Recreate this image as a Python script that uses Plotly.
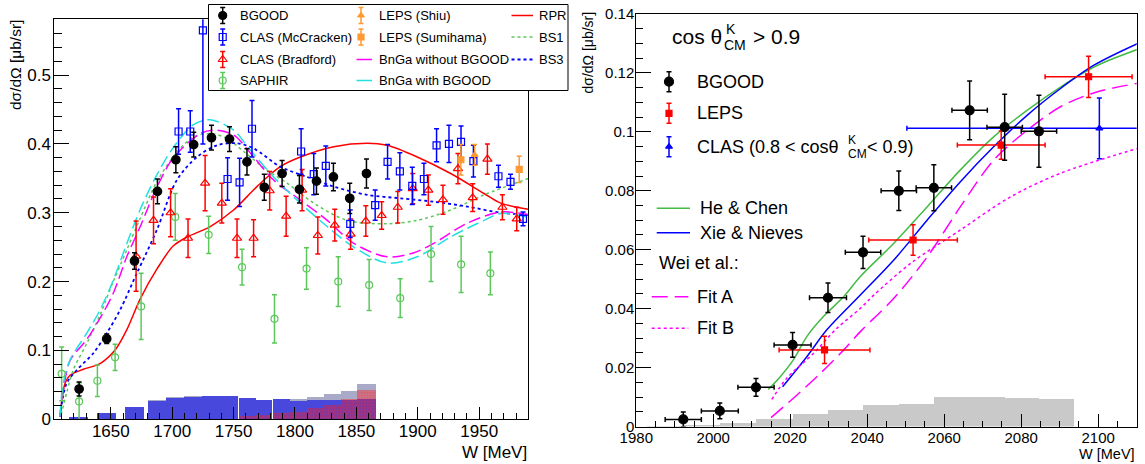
import plotly.graph_objects as go

# ================= LEFT PANEL DATA =================
bg_W = [1624.2, 1646.7, 1669.3, 1688.0, 1703.0, 1717.5, 1732.0, 1746.7, 1760.9, 1775.0, 1789.5, 1803.6, 1817.5, 1831.3, 1844.6, 1858.2]
bg_S = [0.044, 0.117, 0.230, 0.331, 0.377, 0.399, 0.409, 0.407, 0.374, 0.337, 0.357, 0.334, 0.346, 0.352, 0.321, 0.357]
bg_E = [0.010, 0.007, 0.012, 0.018, 0.019, 0.018, 0.018, 0.018, 0.019, 0.019, 0.019, 0.020, 0.019, 0.020, 0.022, 0.021]

mc_W = [1705.2, 1714.7, 1725.0, 1745.1, 1754.9, 1765.0, 1805.0, 1815.3, 1825.1, 1845.0, 1865.3, 1875.4, 1885.4, 1895.5, 1905.0, 1915.3, 1925.4, 1935.2, 1945.3, 1965.7, 1975.5, 1985.7]
mc_S = [0.418, 0.418, 0.565, 0.349, 0.344, 0.422, 0.389, 0.356, 0.368, 0.284, 0.311, 0.374, 0.360, 0.339, 0.349, 0.398, 0.400, 0.403, 0.375, 0.353, 0.345, 0.291]
mc_E = [0.033, 0.030, 0.165, 0.031, 0.035, 0.041, 0.033, 0.030, 0.029, 0.020, 0.022, 0.025, 0.027, 0.027, 0.023, 0.024, 0.027, 0.023, 0.023, 0.016, 0.011, 0.010]

br_W = [1670.6, 1684.8, 1698.7, 1712.9, 1726.8, 1740.4, 1752.8, 1766.3, 1779.4, 1792.8, 1805.8, 1818.6, 1832.4, 1845.3, 1857.7, 1870.6, 1883.7, 1895.9, 1908.6, 1920.5, 1932.7, 1944.7, 1956.7, 1968.9, 1980.6]
br_S = [0.237, 0.289, 0.300, 0.263, 0.343, 0.314, 0.263, 0.263, 0.332, 0.295, 0.333, 0.267, 0.282, 0.269, 0.288, 0.296, 0.308, 0.335, 0.333, 0.319, 0.364, 0.322, 0.378, 0.308, 0.291]
br_E = [0.051, 0.034, 0.035, 0.028, 0.040, 0.029, 0.028, 0.027, 0.028, 0.029, 0.030, 0.027, 0.023, 0.022, 0.022, 0.020, 0.023, 0.022, 0.022, 0.021, 0.022, 0.020, 0.022, 0.018, 0.017]

sa_W = [1610.0, 1624.2, 1639.1, 1653.5, 1674.7, 1702.5, 1729.7, 1756.9, 1783.3, 1809.4, 1835.2, 1860.4, 1885.7, 1910.8, 1935.3, 1959.1]
sa_S = [0.066, 0.026, 0.056, 0.090, 0.164, 0.294, 0.268, 0.221, 0.146, 0.219, 0.200, 0.195, 0.176, 0.240, 0.225, 0.212]
sa_E = [0.039, 0.027, 0.023, 0.019, 0.048, 0.034, 0.027, 0.026, 0.035, 0.030, 0.036, 0.037, 0.028, 0.040, 0.041, 0.031]

shiu_W = [1946.3]
shiu_S = [0.384]
shiu_E = [0.015]

sumi_W = [1935.1, 1982.6]
sumi_S = [0.377, 0.363]
sumi_E = [0.022, 0.019]

rpr_W = [1608.6, 1612.7, 1616.8, 1627.7, 1641.3, 1653.5, 1663.0, 1674.0, 1687.5, 1701.0, 1712.5, 1731.0, 1750.0, 1769.0, 1788.0, 1804.4, 1831.6, 1858.8, 1875.0, 1899.6, 1926.8, 1954.0, 1967.5, 1990.0]
rpr_S = [0.004, 0.052, 0.064, 0.0726, 0.081, 0.1006, 0.130, 0.175, 0.218, 0.252, 0.265, 0.280, 0.304, 0.338, 0.367, 0.381, 0.396, 0.401, 0.398, 0.381, 0.357, 0.328, 0.314, 0.305]

bs1_W = [1609.6, 1614.0, 1619.5, 1630.4, 1641.3, 1652.0, 1663.0, 1674.0, 1687.5, 1703.8, 1717.4, 1731.0, 1744.6, 1758.2, 1777.2, 1793.6, 1815.3, 1842.5, 1875.1, 1899.6, 1926.8, 1954.0, 1990.6]
bs1_S = [0.007, 0.038, 0.072, 0.110, 0.152, 0.200, 0.246, 0.292, 0.345, 0.388, 0.410, 0.415, 0.408, 0.389, 0.362, 0.343, 0.314, 0.289, 0.284, 0.289, 0.304, 0.326, 0.350]

bnw_W = [1608.6, 1611.3, 1616.8, 1630.4, 1641.3, 1652.0, 1663.0, 1674.0, 1687.5, 1701.0, 1717.4, 1731.0, 1750.0, 1763.6, 1782.6, 1804.4, 1826.2, 1847.9, 1875.1, 1899.6, 1926.8, 1954.0, 1967.5, 1990.6]
bnw_S = [0.004, 0.052, 0.086, 0.125, 0.159, 0.202, 0.255, 0.305, 0.355, 0.395, 0.428, 0.435, 0.420, 0.391, 0.352, 0.314, 0.280, 0.250, 0.227, 0.236, 0.265, 0.289, 0.299, 0.293]

bno_W = [1608.6, 1612.7, 1617.0, 1630.4, 1641.3, 1652.0, 1663.0, 1674.0, 1687.5, 1701.0, 1722.8, 1733.7, 1750.0, 1766.3, 1782.6, 1804.4, 1826.2, 1847.9, 1875.1, 1896.8, 1913.0, 1940.4, 1967.5, 1990.6]
bno_S = [0.004, 0.057, 0.086, 0.116, 0.147, 0.183, 0.236, 0.280, 0.337, 0.380, 0.415, 0.420, 0.413, 0.381, 0.3475, 0.3185, 0.289, 0.2556, 0.236, 0.242, 0.2556, 0.285, 0.301, 0.297]

bs3_W = [1608.6, 1614.0, 1622.3, 1635.8, 1646.7, 1657.6, 1671.2, 1687.5, 1703.8, 1720.2, 1736.5, 1752.8, 1766.3, 1788.0, 1809.9, 1831.6, 1858.8, 1886.0, 1913.1, 1940.4, 1967.5, 1990.6]
bs3_S = [0.004, 0.052, 0.0716, 0.096, 0.125, 0.159, 0.212, 0.275, 0.3475, 0.381, 0.398, 0.401, 0.3935, 0.367, 0.352, 0.338, 0.326, 0.321, 0.316, 0.309, 0.300, 0.297]

# systematic-uncertainty histograms (left)
sys_W = [1623.7, 1646.7, 1669.3, 1687.7, 1702.5, 1717.0, 1731.6, 1746.5, 1761.3, 1775.0, 1788.8, 1802.7, 1816.6, 1830.5, 1844.4, 1858.2]
sys_width = [15.0, 15.3, 15.2, 14.9, 14.7, 14.4, 14.8, 14.9, 14.5, 13.2, 13.9, 13.9, 13.9, 13.9, 13.9, 14.9]
sys_blue = [0.004, 0.0097, 0.018, 0.027, 0.031, 0.0324, 0.0338, 0.0338, 0.031, 0.0276, 0.030, 0.027, 0.028, 0.028, 0.028, 0.0295]
sys_grey = [0.004, 0.0097, 0.018, 0.028, 0.032, 0.0332, 0.0345, 0.0345, 0.0315, 0.028, 0.030, 0.0295, 0.0324, 0.0363, 0.0407, 0.0513]
sys_red = [0.0, 0.0, 0.0, 0.0, 0.0, 0.0, 0.0, 0.0, 0.005, 0.006, 0.009, 0.010, 0.016, 0.021, 0.030, 0.0426]

# ================= RIGHT PANEL DATA =================
rb_W = [1992.2, 2001.7, 2011.1, 2020.6, 2029.8, 2038.9, 2048.2, 2057.3, 2066.6, 2075.7, 2084.6]
rb_S = [0.0024, 0.0053, 0.0133, 0.0277, 0.0437, 0.0591, 0.0800, 0.0810, 0.1073, 0.1016, 0.1002]
rb_EX = [4.7, 4.8, 4.7, 4.8, 4.8, 4.6, 4.6, 4.6, 4.6, 4.6, 4.6]
rb_EY = [0.0025, 0.0027, 0.0030, 0.0042, 0.0050, 0.0055, 0.0067, 0.0078, 0.0100, 0.0112, 0.0122]

rl_W = [2028.9, 2051.9, 2074.8, 2097.5]
rl_S = [0.0260, 0.0633, 0.0955, 0.1187]
rl_EX = [11.8, 11.5, 11.4, 11.3]
rl_EY = [0.0046, 0.0052, 0.0048, 0.0070]

rc_W = [2100.3]
rc_S = [0.1012]
rc_EX = [50.0]
rc_EY = [0.0103]

he_W = [2014.3, 2017.4, 2020.8, 2024.3, 2028.6, 2033.9, 2038.2, 2046.9, 2055.6, 2064.2, 2072.9, 2081.6, 2090.3, 2099.0, 2110.3]
he_S = [0.0126, 0.0169, 0.0226, 0.0305, 0.0373, 0.0441, 0.0509, 0.0622, 0.0746, 0.0871, 0.0984, 0.1074, 0.1153, 0.1221, 0.1280]

xn_W = [2018.0, 2024.3, 2029.5, 2038.2, 2046.9, 2055.6, 2064.2, 2072.9, 2081.6, 2090.3, 2099.0, 2110.3]
xn_S = [0.0135, 0.0237, 0.0328, 0.0446, 0.0565, 0.0701, 0.0831, 0.0950, 0.1057, 0.1148, 0.1227, 0.1300]

fa_W = [2015.0, 2020.8, 2027.8, 2033.9, 2038.2, 2046.9, 2055.6, 2064.2, 2072.9, 2081.6, 2090.3, 2099.0, 2110.3]
fa_S = [0.0030, 0.0096, 0.0180, 0.0260, 0.0322, 0.0435, 0.0576, 0.0746, 0.0905, 0.1006, 0.1086, 0.1133, 0.1165]

fb_W = [2015.2, 2019.1, 2026.0, 2032.1, 2038.2, 2041.7, 2051.3, 2064.2, 2077.3, 2090.3, 2110.3]
fb_S = [0.0092, 0.0164, 0.0248, 0.0333, 0.0401, 0.0446, 0.0554, 0.0667, 0.0780, 0.0860, 0.0944]

rsys_edges = [1982.7, 1992.2, 2001.7, 2011.1, 2020.6, 2029.8, 2038.9, 2048.2, 2057.3, 2066.6, 2075.7, 2084.6, 2093.8]
rsys_vals = [0.0003, 0.0004, 0.0013, 0.0026, 0.0041, 0.0056, 0.0074, 0.0076, 0.0100, 0.0099, 0.0096, 0.0093]

# ================= STYLE =================
FONT = "Liberation Sans, Arial, Helvetica, sans-serif"
WPX, HPX = 1145, 464
BLUE = "#0000ff"
RED = "#ff0000"
GREEN_S = "#5cc85c"
GREEN_L = "#44bb44"
CYAN = "#22e0e0"
MAG = "#ff00ff"
ORANGE = "#ff9933"

fig = go.Figure()

# ---------- left: histograms ----------
fig.add_trace(go.Bar(x=sys_W, y=sys_grey, width=sys_width, marker=dict(color="#a9a9c8", line=dict(width=0)),
                     xaxis="x", yaxis="y", showlegend=False))
fig.add_trace(go.Bar(x=sys_W, y=sys_blue, width=sys_width, marker=dict(color="#4848dc", line=dict(width=0)),
                     xaxis="x", yaxis="y", showlegend=False))
fig.add_trace(go.Bar(x=sys_W, y=sys_red, width=sys_width,
                     marker=dict(color="rgba(255,0,0,0.22)", line=dict(width=0),
                                 pattern=dict(shape=".", fgcolor="rgba(255,40,40,0.95)", size=3, solidity=0.5, fillmode="overlay")),
                     xaxis="x", yaxis="y", showlegend=False))

# ---------- left: curves ----------
def curve(xs, ys, color, dash, xa="x", ya="y", width=1.5):
    fig.add_trace(go.Scatter(x=xs, y=ys, mode="lines", line=dict(color=color, width=width, dash=dash, shape="spline", smoothing=0.9),
                             xaxis=xa, yaxis=ya, showlegend=False, hoverinfo="skip"))

curve(rpr_W, rpr_S, RED, "solid")
curve(bs1_W, bs1_S, GREEN_S, "3px,3px")
curve(bs3_W, bs3_S, BLUE, "3px,3px", width=1.8)
curve(bno_W, bno_S, MAG, "12px,5px")
curve(bnw_W, bnw_S, CYAN, "12px,5px")

# ---------- left: data ----------
def pts(xs, ys, es, color, symbol, size, xa="x", ya="y", ex=None, lw=1.2, mcolor=None):
    fig.add_trace(go.Scatter(
        x=xs, y=ys, mode="markers",
        marker=dict(symbol=symbol, size=size, color=mcolor or color, line=dict(color=color, width=lw)),
        error_y=dict(type="data", array=es, color=color, thickness=1.5, width=2.5),
        error_x=(dict(type="data", array=ex, color=color, thickness=1.5, width=2.5) if ex is not None else None),
        xaxis=xa, yaxis=ya, showlegend=False, hoverinfo="skip"))

pts(sa_W, sa_S, sa_E, GREEN_S, "circle-open", 7)
pts(br_W, br_S, br_E, RED, "triangle-up-open", 8)
pts(mc_W, mc_S, mc_E, BLUE, "square-open", 7)
pts(shiu_W, shiu_S, shiu_E, ORANGE, "triangle-up", 6)
pts(sumi_W, sumi_S, sumi_E, ORANGE, "square", 6)
pts(bg_W, bg_S, bg_E, "black", "circle", 8.5)

# ---------- right: histogram ----------
rsys_c = [(a + b) / 2 for a, b in zip(rsys_edges[:-1], rsys_edges[1:])]
rsys_w = [b - a for a, b in zip(rsys_edges[:-1], rsys_edges[1:])]
fig.add_trace(go.Bar(x=rsys_c, y=rsys_vals, width=rsys_w, marker=dict(color="#c9c9c9", line=dict(width=0)),
                     xaxis="x2", yaxis="y2", showlegend=False))

# ---------- right: curves ----------
curve(he_W, he_S, GREEN_L, "solid", "x2", "y2")
curve(xn_W, xn_S, BLUE, "solid", "x2", "y2")
curve(fa_W, fa_S, MAG, "16px,7px", "x2", "y2")
curve(fb_W, fb_S, MAG, "3px,3px", "x2", "y2")

# ---------- right: data ----------
pts(rc_W, rc_S, rc_EY, BLUE, "triangle-up", 6, "x2", "y2", ex=rc_EX)
pts(rl_W, rl_S, rl_EY, RED, "square", 6, "x2", "y2", ex=rl_EX)
pts(rb_W, rb_S, rb_EY, "black", "circle", 9, "x2", "y2", ex=rb_EX)

# ================= LEGENDS (pixel overlay axes x3/y3) =================
shapes = []
ann = []

def txt(x, y, s, size, xanchor="left", angle=0, yanchor="middle"):
    ann.append(dict(x=x, y=y, xref="x3", yref="y3", text=s, showarrow=False, xanchor=xanchor, yanchor=yanchor,
                    textangle=angle, font=dict(family=FONT, size=size, color="black")))

def lg_pt(x, y, color, symbol, size, err, mcolor=None):
    fig.add_trace(go.Scatter(x=[x], y=[y], mode="markers", xaxis="x3", yaxis="y3",
                             marker=dict(symbol=symbol, size=size, color=mcolor or color, line=dict(color=color, width=1.2)),
                             error_y=dict(type="constant", value=err, color=color, thickness=1.5, width=2.5),
                             showlegend=False, hoverinfo="skip", cliponaxis=False))

def lg_line(x0, x1, y, color, dash, width=1.5):
    fig.add_trace(go.Scatter(x=[x0, x1], y=[y, y], mode="lines", xaxis="x3", yaxis="y3",
                             line=dict(color=color, width=width, dash=dash), showlegend=False, hoverinfo="skip", cliponaxis=False))

# left legend box
shapes.append(dict(type="rect", xref="x3", yref="y3", x0=208.5, x1=568, y0=4.5, y1=90.5,
                   line=dict(color="black", width=1), fillcolor="white", layer="below"))
rows = [15.5, 37, 59.5, 80.5]
c1m, c1t = 222.7, 238
c2m, c2t = 361, 376.5
lg_pt(c1m, rows[0], "black", "circle", 8, 8)
txt(c1t, rows[0], "BGOOD", 13)
lg_pt(c1m, rows[1], BLUE, "square-open", 7, 8)
txt(c1t, rows[1], "CLAS (McCracken)", 13)
lg_pt(c1m, rows[2], RED, "triangle-up-open", 8, 8)
txt(c1t, rows[2], "CLAS (Bradford)", 13)
lg_pt(c1m, rows[3], GREEN_S, "circle-open", 7, 8)
txt(c1t, rows[3], "SAPHIR", 13)
lg_pt(c2m, rows[0], ORANGE, "triangle-up", 6, 8)
txt(c2t, rows[0], "LEPS (Shiu)", 13)
lg_pt(c2m, rows[1], ORANGE, "square", 6, 8)
txt(c2t, rows[1], "LEPS (Sumihama)", 13)
lg_line(356.5, 372, rows[2], MAG, "solid")
txt(c2t, rows[2], "BnGa without BGOOD", 13)
lg_line(356.5, 372, rows[3], CYAN, "solid")
txt(c2t, rows[3], "BnGa with BGOOD", 13)
lg_line(511.5, 533, rows[0], RED, "solid")
txt(536.5, rows[0], "RPR", 13)
lg_line(511.5, 533, rows[1], GREEN_S, "3px,3px")
txt(536.5, rows[1], "BS1", 13)
lg_line(511.5, 533, rows[2], BLUE, "3px,3px", 1.8)
txt(536.5, rows[2], "BS3", 13)

# right legend
txt(670, 36.7, "cos θ", 21)
txt(724, 29, "K", 14)
txt(722, 45, "CM", 14)
txt(751, 36.7, "&gt; 0.9", 21)
lg_pt(669, 81.7, "black", "circle", 9, 10)
txt(695, 81.7, "BGOOD", 18)
lg_pt(669, 113.3, RED, "square", 6, 10)
txt(695, 113.3, "LEPS", 18)
lg_pt(669, 146.7, BLUE, "triangle-up", 6, 10)
txt(695, 146.7, "CLAS (0.8 &lt; cosθ", 18)
txt(846, 139.5, "K", 12)
txt(845.5, 154, "CM", 12)
txt(865, 146.7, "&lt; 0.9)", 18)
lg_line(656.7, 690, 208.3, GREEN_L, "solid")
txt(698, 208.3, "He &amp; Chen", 18)
lg_line(656.7, 690, 232.7, BLUE, "solid")
txt(698, 232.7, "Xie &amp; Nieves", 18)
txt(657, 263.3, "Wei et al.:", 18)
lg_line(651.7, 688.3, 296.7, MAG, "16px,7px")
txt(695, 296.7, "Fit A", 18)
lg_line(651.7, 688.3, 328.3, MAG, "3px,3px")
txt(695, 328.3, "Fit B", 18)

# axis titles
txt(15, 65, "dσ/dΩ [μb/sr]", 15.5, xanchor="center", angle=-90)
txt(587.5, 53, "dσ/dΩ [μb/sr]", 14, xanchor="center", angle=-90)
txt(528.5, 452, "W [MeV]", 17, xanchor="right")
txt(1137, 453.5, "W [MeV]", 14.5, xanchor="right")

# ================= AXES =================
def ax(domain, rng, dtick, tick0, ticklen, mdtick, mlen, fsize, anchor, standoff):
    return dict(domain=domain, range=rng, dtick=dtick, tick0=tick0, ticks="inside", ticklen=ticklen, tickwidth=1,
                tickcolor="black", showline=True, mirror=True, linecolor="black", linewidth=1,
                showgrid=False, zeroline=False, anchor=anchor, automargin=False, fixedrange=True,
                ticklabelstandoff=standoff,
                tickfont=dict(family=FONT, size=fsize, color="black"),
                minor=dict(dtick=mdtick, ticks="inside", ticklen=mlen, tickwidth=1, tickcolor="black", showgrid=False))

fig.update_layout(
    width=WPX, height=HPX, margin=dict(l=0, r=0, t=0, b=0),
    paper_bgcolor="white", plot_bgcolor="rgba(0,0,0,0)",
    barmode="overlay", bargap=0, showlegend=False,
    font=dict(family=FONT, color="black"),
    xaxis=ax([54.3 / WPX, 528.3 / WPX], [1604, 1990], 50, 1650, 12, 10, 6, 17, "y", -4),
    yaxis=ax([(HPX - 419.3) / HPX, (HPX - 19.3) / HPX], [0, 0.581], 0.1, 0, 15, 0.02, 8, 17, "x", -1),
    xaxis2=ax([636.3 / WPX, 1136.7 / WPX], [1980, 2110], 20, 1980, 12.5, 5, 6, 15, "y2", -3),
    yaxis2=ax([(HPX - 426.5) / HPX, (HPX - 14) / HPX], [0, 0.14], 0.02, 0, 14.5, 0.005, 7, 15, "x2", -2),
    xaxis3=dict(domain=[0, 1], range=[0, WPX], visible=False, anchor="y3", fixedrange=True),
    yaxis3=dict(domain=[0, 1], range=[HPX, 0], visible=False, anchor="x3", fixedrange=True),
    shapes=shapes, annotations=ann,
)

fig.write_html("out.html", config={"displayModeBar": False, "staticPlot": True},
               post_script="document.body.style.margin='0';document.body.style.overflow='hidden';")
